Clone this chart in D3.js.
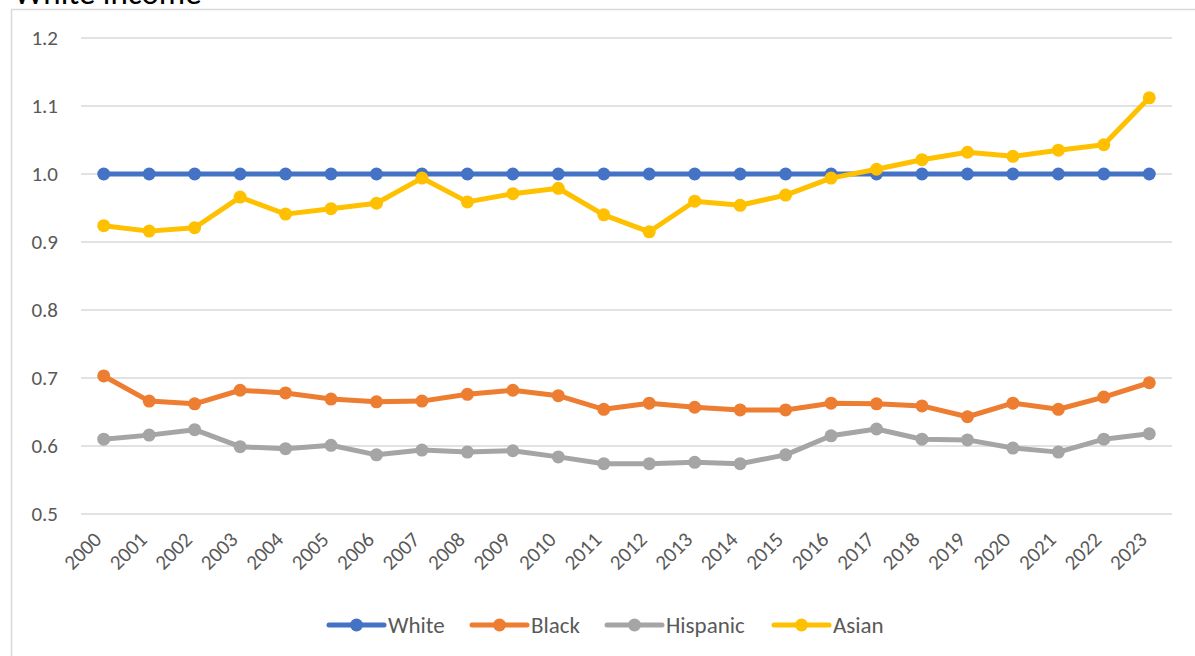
<!DOCTYPE html>
<html>
<head>
<meta charset="utf-8">
<script src="https://cdn.jsdelivr.net/npm/d3@7"></script>
<style>
  html, body { margin: 0; padding: 0; background: #fff; }
  svg { display: block; }
</style>
</head>
<body>
<svg id="chart" width="1195" height="656"></svg>
<script>
// Income ratio relative to White households, 2000–2023
const years = ["2000","2001","2002","2003","2004","2005","2006","2007","2008","2009","2010","2011",
               "2012","2013","2014","2015","2016","2017","2018","2019","2020","2021","2022","2023"];
const white    = [1,1,1,1,1,1,1,1,1,1,1,1,1,1,1,1,1,1,1,1,1,1,1,1];
const black    = [0.703,0.666,0.662,0.682,0.678,0.669,0.665,0.666,0.676,0.682,0.674,0.654,
                  0.663,0.657,0.653,0.653,0.663,0.662,0.659,0.643,0.663,0.654,0.672,0.693];
const hispanic = [0.610,0.616,0.624,0.599,0.596,0.601,0.587,0.594,0.591,0.593,0.584,0.574,
                  0.574,0.576,0.574,0.587,0.615,0.625,0.610,0.609,0.597,0.591,0.610,0.618];
const asian    = [0.924,0.916,0.921,0.966,0.941,0.949,0.957,0.994,0.959,0.971,0.979,0.940,
                  0.915,0.960,0.954,0.969,0.994,1.007,1.021,1.032,1.026,1.035,1.043,1.112];
const yTicks = [0.5,0.6,0.7,0.8,0.9,1.0,1.1,1.2];

const series = [
  { name: "White",    values: white,    color: "#4472c4" },
  { name: "Black",    values: black,    color: "#ed7d31" },
  { name: "Hispanic", values: hispanic, color: "#a5a5a5" },
  { name: "Asian",    values: asian,    color: "#ffc000" }
];

const font = "Carlito, Lato, 'Open Sans', sans-serif";
const svg = d3.select("#chart");

// chart frame
svg.append("path")
  .attr("d", "M11.5,660 V9.5 H1200")
  .attr("fill", "none").attr("stroke", "#d9d9d9").attr("stroke-width", 1.5);

// title (runs off the top edge)
svg.append("text")
  .attr("x", 14).attr("y", 4)
  .attr("font-family", font).attr("font-size", 33)
  .attr("fill", "#000").text("White income");

const plot = { left: 81, right: 1172, top: 38, bottom: 514 };

const x = d3.scaleBand().domain(years).range([plot.left, plot.right]);
const y = d3.scaleLinear().domain([0.5, 1.2]).range([plot.bottom, plot.top]);

// gridlines
svg.append("g").selectAll("line").data(yTicks).join("line")
  .attr("x1", plot.left).attr("x2", plot.right)
  .attr("y1", d => y(d)).attr("y2", d => y(d))
  .attr("stroke", "#d9d9d9").attr("stroke-width", 1.5);

// y axis labels
const yAxis = svg.append("g")
  .attr("transform", `translate(${plot.left - 23},0)`)
  .call(d3.axisLeft(y).tickValues(yTicks).tickFormat(d3.format(".1f")).tickSize(0).tickPadding(0));
yAxis.select(".domain").remove();
yAxis.selectAll("text")
  .attr("font-family", font).attr("font-size", 21).attr("fill", "#595959");

// x axis labels, rotated
const xAxis = svg.append("g")
  .attr("transform", `translate(0,${plot.bottom})`)
  .call(d3.axisBottom(x).tickSize(0).tickPadding(0));
xAxis.select(".domain").remove();
xAxis.selectAll(".tick text")
  .attr("font-family", font).attr("font-size", 21).attr("fill", "#595959")
  .attr("text-anchor", "end")
  .attr("dy", null)
  .attr("transform", "translate(-1,27) rotate(-45)");

const cx = i => x(years[i]) + x.bandwidth() / 2;
const line = d3.line().x((d, i) => cx(i)).y(d => y(d));

series.forEach(s => {
  const g = svg.append("g");
  g.append("path")
    .attr("d", line(s.values))
    .attr("fill", "none").attr("stroke", s.color)
    .attr("stroke-width", 5).attr("stroke-linejoin", "round");
  g.selectAll("circle").data(s.values).join("circle")
    .attr("cx", (d, i) => cx(i)).attr("cy", d => y(d))
    .attr("r", 6.5).attr("fill", s.color);
});

// legend
const legendX = [329, 472, 607, 774];
const legendY = 625;
const lg = svg.append("g");
series.forEach((s, i) => {
  const g = lg.append("g").attr("transform", `translate(${legendX[i]},${legendY})`);
  g.append("line").attr("x1", 0).attr("x2", 55).attr("y1", 0).attr("y2", 0)
    .attr("stroke", s.color).attr("stroke-width", 5).attr("stroke-linecap", "round");
  g.append("circle").attr("cx", 27.5).attr("cy", 0).attr("r", 6.5).attr("fill", s.color);
  g.append("text").attr("x", 59).attr("y", 0).attr("dy", "0.36em")
    .attr("font-family", font).attr("font-size", 23).attr("fill", "#595959")
    .text(s.name);
});
</script>
</body>
</html>
